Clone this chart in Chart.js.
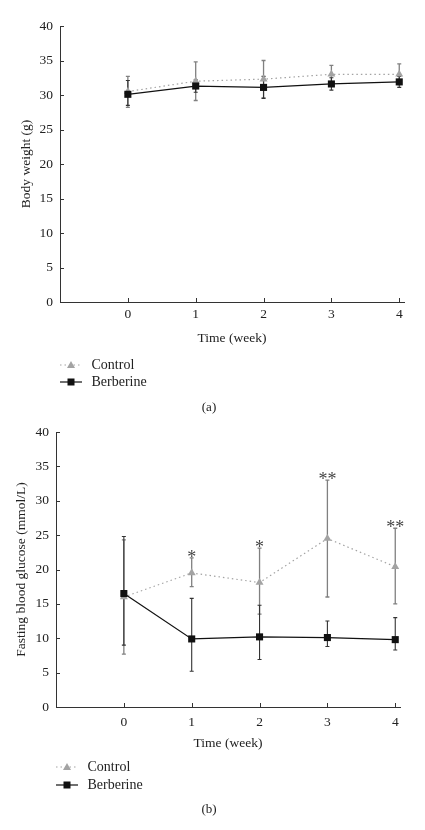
<!DOCTYPE html>
<html><head><meta charset="utf-8">
<script src="https://cdn.jsdelivr.net/npm/chart.js@4.4.0/dist/chart.umd.min.js"></script>
<style>
html,body{margin:0;padding:0;background:#fff;}
.wrap{position:absolute;left:0;width:425px;height:415px;}
#wa{top:0}
#wb{top:415px}
</style></head><body>
<div class="wrap" id="wa"><canvas id="ca" width="425" height="415"></canvas></div>
<div class="wrap" id="wb"><canvas id="cb" width="425" height="415"></canvas></div>
<script>
// ---- data ----
const weeks = [0, 1, 2, 3, 4];
const weekLabels = ['0', '1', '2', '3', '4'];
const seriesNames = ['Control', 'Berberine'];

// (a) Body weight (g)
const weightControl = [30.5, 32.0, 32.3, 33.0, 33.0];
const weightControlHigh = [32.7, 34.8, 35.0, 34.3, 34.5];
const weightControlLow = [28.2, 29.2, 29.6, 31.7, 31.5];
const weightBerberine = [30.1, 31.3, 31.1, 31.6, 31.9];
const weightBerberineHigh = [32.1, 32.2, 32.7, 32.5, 32.7];
const weightBerberineLow = [28.5, 30.4, 29.5, 30.7, 31.1];

// (b) Fasting blood glucose (mmol/L)
const glucoseControl = [16.0, 19.5, 18.1, 24.5, 20.4];
const glucoseControlHigh = [24.3, 21.7, 23.1, 33.0, 26.0];
const glucoseControlLow = [7.7, 17.5, 13.5, 16.0, 15.0];
const glucoseBerberine = [16.5, 9.9, 10.2, 10.1, 9.8];
const glucoseBerberineHigh = [24.8, 15.8, 14.8, 12.5, 13.0];
const glucoseBerberineLow = [9.0, 5.2, 6.9, 8.8, 8.3];
const glucoseSignificance = ['', '*', '*', '**', '**'];

// ---- drawing ----
const FONT = "'Liberation Serif', 'DejaVu Serif', serif";
const TEXT = '#222222';
const CTRL = '#a3a3a3';
const CTRL_ERR = '#808080';
const BERB = '#111111';

function makeChart(id, g) {
  const plugin = {
    id: 'overlay' + id,
    beforeDatasetsDraw(chart) {
      const ctx = chart.ctx, xs = chart.scales.x, ys = chart.scales.y;
      const bars = [
        {hi: g.ctrlHigh, lo: g.ctrlLow, color: CTRL_ERR, w: 1.3},
        {hi: g.berbHigh, lo: g.berbLow, color: '#333', w: 1.1}
      ];
      ctx.save();
      bars.forEach(b => {
        ctx.strokeStyle = b.color; ctx.lineWidth = b.w;
        weeks.forEach((wk, i) => {
          const x = xs.getPixelForValue(wk);
          const y1 = ys.getPixelForValue(b.hi[i]);
          const y2 = ys.getPixelForValue(b.lo[i]);
          ctx.beginPath();
          ctx.moveTo(x, y1); ctx.lineTo(x, y2);
          ctx.moveTo(x - 2, y1); ctx.lineTo(x + 2, y1);
          ctx.moveTo(x - 2, y2); ctx.lineTo(x + 2, y2);
          ctx.stroke();
        });
      });
      ctx.restore();
    },
    afterDraw(chart) {
      const ctx = chart.ctx, xs = chart.scales.x, ys = chart.scales.y, ca = chart.chartArea;
      ctx.save();
      // inward tick marks
      ctx.strokeStyle = '#333'; ctx.lineWidth = 1;
      ctx.beginPath();
      xs.ticks.forEach(t => {
        const x = Math.round(xs.getPixelForValue(t.value)) + 0.5;
        ctx.moveTo(x, ca.bottom); ctx.lineTo(x, ca.bottom - 4);
      });
      ys.ticks.forEach(t => {
        const y = Math.round(ys.getPixelForValue(t.value)) + 0.5;
        ctx.moveTo(ca.left, y); ctx.lineTo(ca.left + 4, y);
      });
      ctx.stroke();
      // significance asterisks
      if (g.sig) {
        ctx.fillStyle = '#444';
        ctx.font = '18px ' + FONT;
        ctx.textAlign = 'center';
        ctx.textBaseline = 'alphabetic';
        weeks.forEach((wk, i) => {
          const s = g.sig[i];
          if (!s) return;
          const m = ctx.measureText(s);
          const x = xs.getPixelForValue(wk);
          const top = ys.getPixelForValue(g.ctrlHigh[i]);
          ctx.fillText(s, x, top - 1 - m.actualBoundingBoxDescent);
        });
      }
      // legend
      const lx = ca.left;
      ctx.font = '14px ' + FONT;
      ctx.textAlign = 'left'; ctx.textBaseline = 'middle';
      // Control
      let y = g.legendY[0];
      ctx.strokeStyle = CTRL; ctx.lineWidth = 1.2; ctx.setLineDash([1.5, 3]);
      ctx.beginPath(); ctx.moveTo(lx, y); ctx.lineTo(lx + 22, y); ctx.stroke();
      ctx.setLineDash([]);
      ctx.fillStyle = CTRL;
      ctx.beginPath();
      ctx.moveTo(lx + 11, y - 4); ctx.lineTo(lx + 15, y + 3); ctx.lineTo(lx + 7, y + 3); ctx.closePath(); ctx.fill();
      ctx.fillStyle = TEXT;
      ctx.fillText(seriesNames[0], lx + 31.5, y);
      // Berberine
      y = g.legendY[1];
      ctx.strokeStyle = BERB; ctx.lineWidth = 1.2;
      ctx.beginPath(); ctx.moveTo(lx, y); ctx.lineTo(lx + 22, y); ctx.stroke();
      ctx.fillStyle = BERB; ctx.fillRect(lx + 7.5, y - 3.5, 7, 7);
      ctx.fillStyle = TEXT;
      ctx.fillText(seriesNames[1], lx + 31.5, y);
      // caption
      ctx.font = '13px ' + FONT;
      ctx.textAlign = 'center';
      ctx.fillText(g.caption, 209, g.captionY);
      ctx.restore();
    }
  };

  return new Chart(document.getElementById(id), {
    type: 'line',
    data: {
      datasets: [
        {
          label: seriesNames[0],
          data: weeks.map((w, i) => ({x: w, y: g.ctrl[i]})),
          borderColor: CTRL, backgroundColor: CTRL,
          borderWidth: 1.2, borderDash: [1.5, 3],
          pointStyle: 'triangle', pointRadius: 4.6, pointBorderWidth: 0,
          order: 1, clip: false
        },
        {
          label: seriesNames[1],
          data: weeks.map((w, i) => ({x: w, y: g.berb[i]})),
          borderColor: BERB, backgroundColor: BERB,
          borderWidth: 1.2,
          pointStyle: 'rect', pointRadius: 5, pointBorderWidth: 0,
          order: 0, clip: false
        }
      ]
    },
    options: {
      responsive: false,
      animation: false,
      devicePixelRatio: 1,
      layout: {padding: g.padding},
      plugins: {legend: {display: false}, tooltip: {enabled: false}},
      scales: {
        x: {
          type: 'linear', min: -1, max: 4.07,
          afterBuildTicks: s => { s.ticks = weeks.map(v => ({value: v})); },
          afterFit: s => { s.height = 45; },
          grid: {display: false, drawTicks: false, tickLength: 0},
          border: {display: true, color: '#333', width: 1},
          ticks: {
            padding: g.xPad, color: TEXT, font: {family: FONT, size: 13.5},
            callback: (v) => { const i = weeks.indexOf(v); return i >= 0 ? weekLabels[i] : ''; }
          },
          title: {display: true, text: 'Time (week)', color: TEXT, font: {family: FONT, size: 13.5}, padding: 0}
        },
        y: {
          min: 0, max: 40,
          afterFit: s => { s.width = g.yWidth; },
          grid: {display: false, drawTicks: false, tickLength: 0},
          border: {display: true, color: '#333', width: 1},
          ticks: {stepSize: 5, padding: 7, color: TEXT, font: {family: FONT, size: 13.5}},
          title: {display: true, text: g.yTitle, color: TEXT, font: {family: FONT, size: 13.5}, padding: g.yTitlePad}
        }
      }
    },
    plugins: [plugin]
  });
}

makeChart('ca', {
  ctrl: weightControl, ctrlHigh: weightControlHigh, ctrlLow: weightControlLow,
  berb: weightBerberine, berbHigh: weightBerberineHigh, berbLow: weightBerberineLow,
  sig: null,
  yTitle: 'Body weight (g)',
  padding: {left: 0, right: 21, top: 26, bottom: 68},
  yWidth: 60, yTitlePad: 18, xPad: 4,
  legendY: [365, 382], caption: '(a)', captionY: 408
});

makeChart('cb', {
  ctrl: glucoseControl, ctrlHigh: glucoseControlHigh, ctrlLow: glucoseControlLow,
  berb: glucoseBerberine, berbHigh: glucoseBerberineHigh, berbLow: glucoseBerberineLow,
  sig: glucoseSignificance,
  yTitle: 'Fasting blood glucose (mmol/L)',
  padding: {left: 0, right: 25, top: 17, bottom: 78},
  yWidth: 56, yTitlePad: 13, xPad: 7,
  legendY: [352, 370], caption: '(b)', captionY: 395
});
</script>
</body></html>
